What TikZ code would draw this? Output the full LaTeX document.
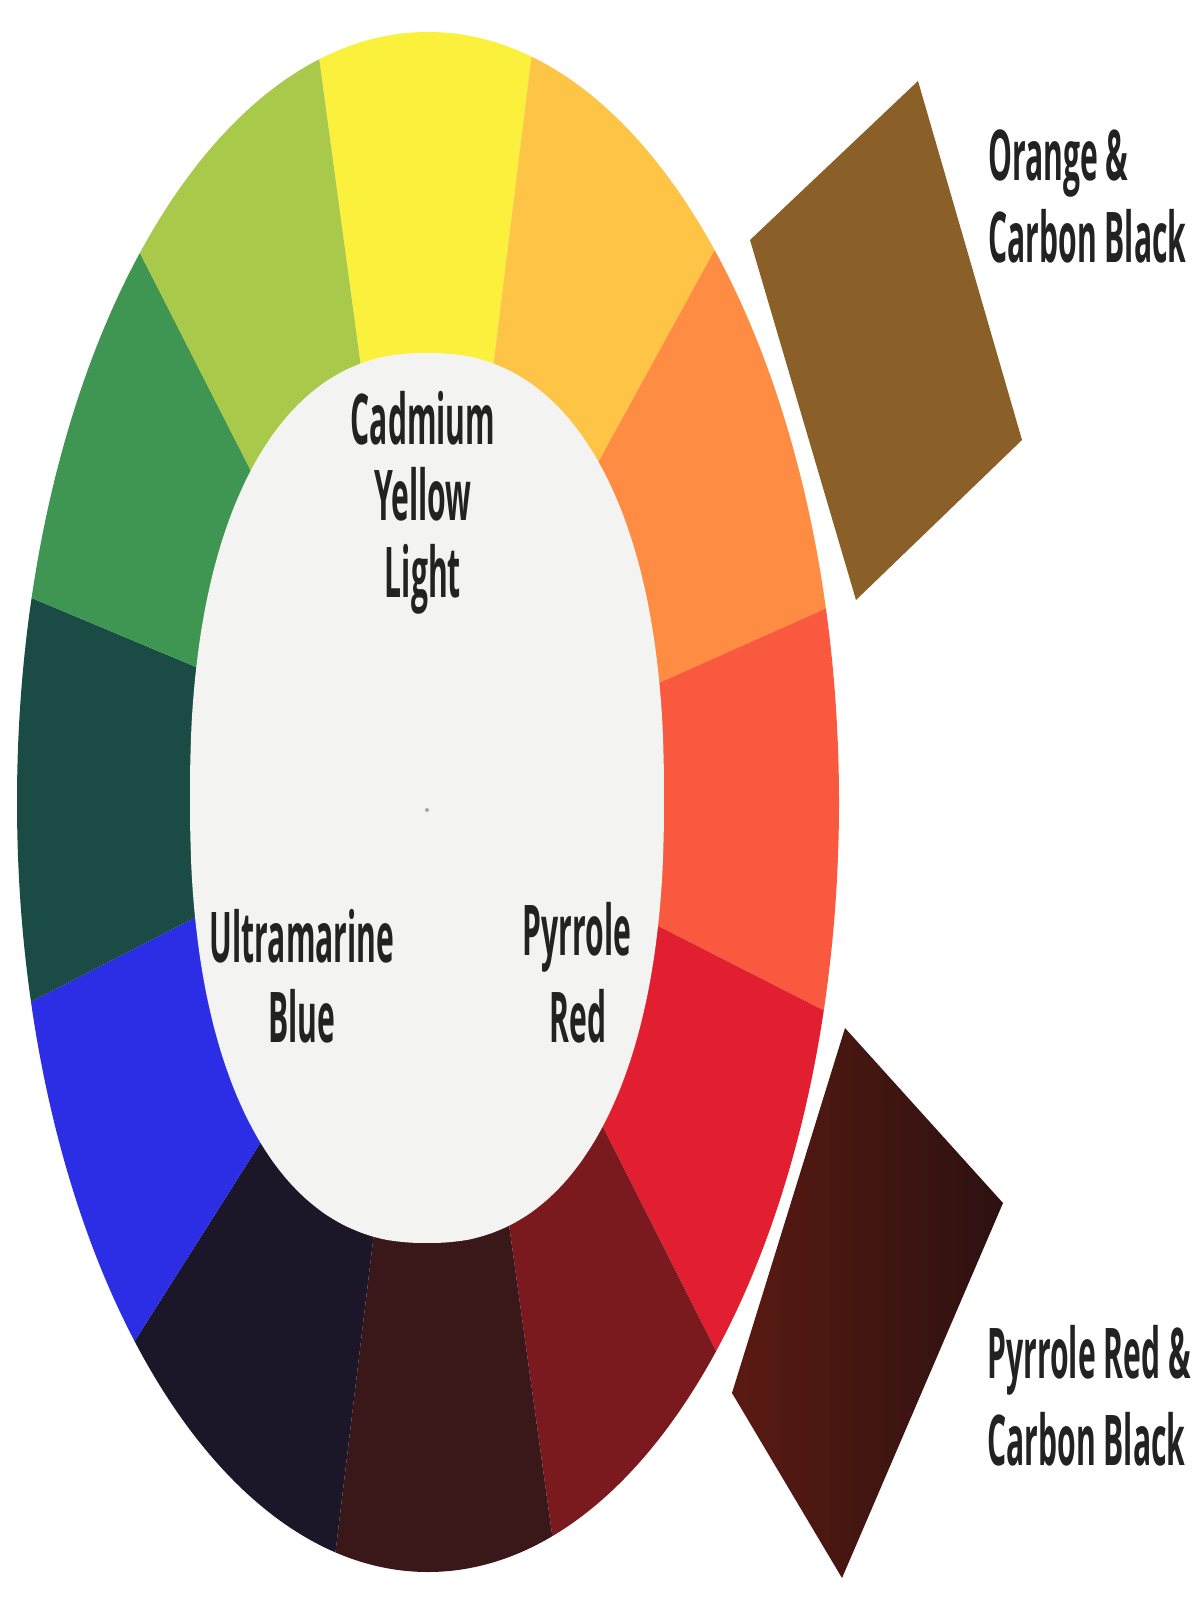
\documentclass[tikz,border=0pt]{standalone}
\usepackage{fontspec}
\usetikzlibrary{calc}
\newfontfamily\labfont[FakeStretch=0.43]{Open Sans}
\definecolor{cY}{HTML}{FBF03C}
\definecolor{cYO}{HTML}{FDC445}
\definecolor{cO}{HTML}{FE8C42}
\definecolor{cRO}{HTML}{F95A3F}
\definecolor{cR}{HTML}{E21F30}
\definecolor{cDR}{HTML}{7A1A1F}
\definecolor{cM}{HTML}{3A1719}
\definecolor{cN}{HTML}{1B1628}
\definecolor{cB}{HTML}{2B2EE4}
\definecolor{cDG}{HTML}{1A4C45}
\definecolor{cG}{HTML}{3F9552}
\definecolor{cL}{HTML}{A9C94A}
\definecolor{cIn}{HTML}{F3F3F1}
\definecolor{cBrown}{HTML}{8A6028}
\definecolor{cDk1}{HTML}{5A1A12}
\definecolor{cDk2}{HTML}{2C1110}
\definecolor{txt}{HTML}{222222}
\begin{document}
\begin{tikzpicture}[x=0.5pt,y=-0.5pt,
  lab/.style={font=\labfont\bfseries\fontsize{35}{41}\selectfont, text=txt, inner sep=0pt, anchor=base},
  labl/.style={lab, anchor=base west}]
\useasboundingbox (0,0) rectangle (1200,1600);
\fill[white] (0,0) rectangle (1200,1600);
% centre and segment boundaries (inner a, outer b)
\coordinate (C) at (427,798);
\coordinate (a1) at (494,360);  \coordinate (b1) at (532,52);
\coordinate (a2) at (600,459);  \coordinate (b2) at (713,253);
\coordinate (a3) at (661,682);  \coordinate (b3) at (818,612);
\coordinate (a4) at (660,927);  \coordinate (b4) at (823,1010);
\coordinate (a5) at (603,1127); \coordinate (b5) at (717,1353);
\coordinate (a6) at (511,1239); \coordinate (b6) at (553,1541);
\coordinate (a7) at (373,1241); \coordinate (b7) at (336,1548);
\coordinate (a8) at (266,1134); \coordinate (b8) at (150,1317);
\coordinate (a9) at (200,915);  \coordinate (b9) at (38,998);
\coordinate (a10) at (196,667); \coordinate (b10) at (34,599);
\coordinate (a11) at (253,475); \coordinate (b11) at (138,249);
\coordinate (a12) at (360,360); \coordinate (b12) at (318,50);
\begin{scope}
\clip (428,802) ellipse [x radius=411, y radius=770];
\foreach \i/\j/\c in {12/1/cY,1/2/cYO,2/3/cO,3/4/cRO,4/5/cR,5/6/cDR,6/7/cM,7/8/cN,8/9/cB,9/10/cDG,10/11/cG,11/12/cL}{
  \fill[\c] (C) -- ($(b\i)!1.2!(a\i)$) -- ($(a\i)!2.5!(b\i)$) -- ($(a\j)!2.5!(b\j)$) -- ($(b\j)!1.2!(a\j)$) -- cycle;
}
\end{scope}
% inner disc (superellipse)
\fill[cIn] plot[domain=2.5:357.5, samples=72, smooth cycle]
  ({427+237*sign(cos(\x))*abs(cos(\x))^(0.87)}, {798+445*sign(sin(\x))*abs(sin(\x))^(0.87)});
\fill[gray!70] (427,810) circle[radius=2];
% swatches
\coordinate (p1t) at (918,81);  \coordinate (p1r) at (1022,440);
\coordinate (p1b) at (856,600); \coordinate (p1l) at (750,240);
\fill[cBrown] (p1t) -- (p1r) -- (p1b) -- (p1l) -- cycle;
\coordinate (p2t) at (845,1028); \coordinate (p2r) at (1003,1203);
\coordinate (p2b) at (842,1578); \coordinate (p2l) at (732,1393);
\shade[left color=cDk1, right color=cDk2] (p2t) -- (p2r) -- (p2b) -- (p2l) -- cycle;
% labels
\node[lab] (cad1) at (423,444) {Cadmium};
\node[lab] (cad2) at (423,520) {Yellow};
\node[lab] (cad3) at (423,597) {Light};
\node[lab] (ub1) at (302,962) {Ultramarine};
\node[lab] (ub2) at (302,1042) {Blue};
\node[lab] (pr1) at (577,955) {Pyrrole};
\node[lab] (pr2) at (578,1042) {Red};
\node[labl] (oc1) at (988,180) {Orange \&};
\node[labl] (oc2) at (988,262) {Carbon Black};
\node[labl] (rc1) at (987,1378) {Pyrrole Red \&};
\node[labl] (rc2) at (987,1465) {Carbon Black};
\end{tikzpicture}
\end{document}
